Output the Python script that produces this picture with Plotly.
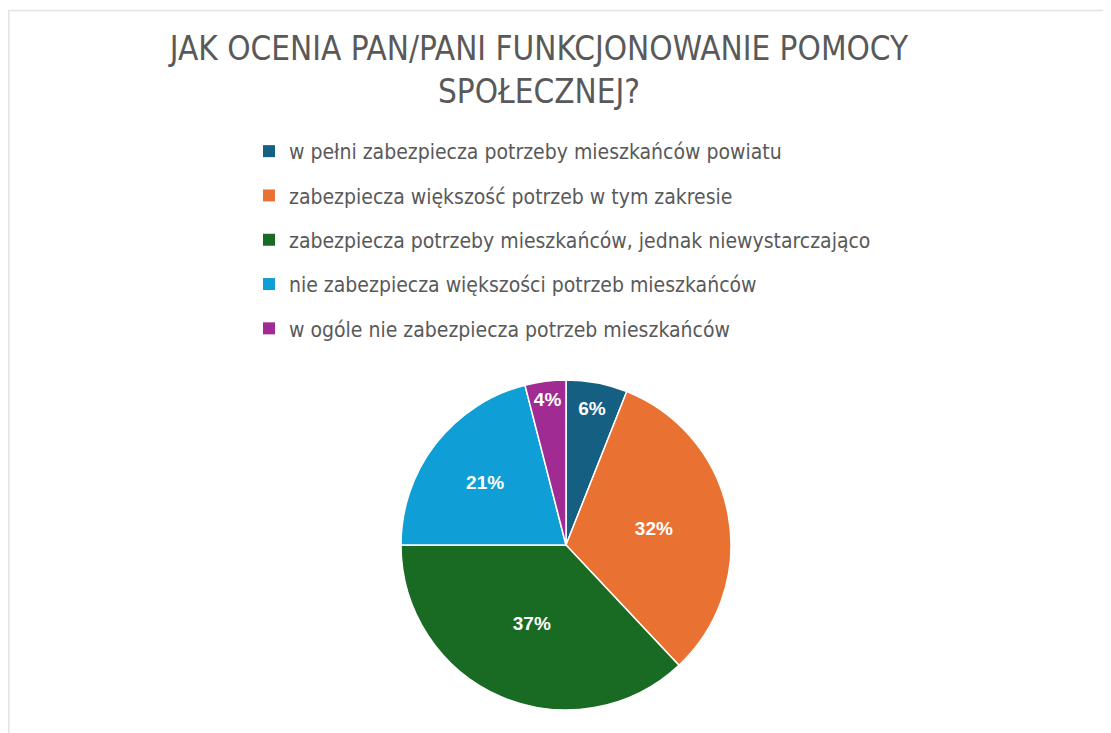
import plotly.graph_objects as go

title_text = "JAK OCENIA PAN/PANI FUNKCJONOWANIE POMOCY<br>SPOŁECZNEJ?"
labels = [
    "w pełni zabezpiecza potrzeby mieszkańców powiatu",
    "zabezpiecza większość potrzeb w tym zakresie",
    "zabezpiecza potrzeby mieszkańców, jednak niewystarczająco",
    "nie zabezpiecza większości potrzeb mieszkańców",
    "w ogóle nie zabezpiecza potrzeb mieszkańców",
]
values = [6, 32, 37, 21, 4]
colors = ["#156082", "#E97132", "#196B24", "#0F9ED5", "#A02B93"]

W, H = 1111, 733
OFF = 8  # page body margin
cx, cy, r = 566 - OFF, 545 - OFF, 165

fig = go.Figure()
fig.add_trace(go.Pie(
    labels=labels, values=values, sort=False, direction="clockwise", rotation=0,
    marker=dict(colors=colors, line=dict(color="white", width=1.5)),
    texttemplate="%{percent:.0%}", textposition="inside",
    insidetextorientation="horizontal",
    textfont=dict(family="Liberation Sans, Arial, sans-serif", size=19, color="white",
                  weight="bold"),
    showlegend=False, hoverinfo="label+percent",
    domain=dict(x=[(cx - r) / W, (cx + r) / W], y=[1 - (cy + r) / H, 1 - (cy - r) / H]),
))

# legend entries (one per slice), grouped so the gap between items matches
for i, (lab, col) in enumerate(zip(labels, colors)):
    fig.add_trace(go.Scatter(
        x=[None], y=[None], mode="markers", name=lab, legendgroup=f"g{i}",
        marker=dict(symbol="square", size=14, color=col),
        showlegend=True, hoverinfo="skip",
    ))

fig.update_layout(
    width=W, height=H,
    margin=dict(l=0, r=0, t=0, b=0, autoexpand=False),
    paper_bgcolor="white", plot_bgcolor="white",
    xaxis=dict(visible=False), yaxis=dict(visible=False),
    title=dict(
        text=title_text, x=531 / W, xanchor="center", y=1 - 52 / H, yanchor="top",
        font=dict(family="Liberation Sans Narrow, DejaVu Sans Condensed, Roboto, sans-serif",
                  size=33, color="#595959"),
    ),
    legend=dict(
        x=241 / W, xanchor="left", y=1 - 123 / H, yanchor="top",
        font=dict(family="Liberation Sans Narrow, DejaVu Sans Condensed, Roboto, sans-serif",
                  size=21, color="#595959"),
        tracegroupgap=14, itemsizing="constant", bgcolor="rgba(0,0,0,0)",
    ),
    shapes=[dict(type="rect", xref="paper", yref="paper",
                 x0=0.8 / W, x1=1.05, y0=-0.05, y1=1 - 2.5 / H,
                 line=dict(color="#E3E3E3", width=1.5), layer="below")],
)

fig.write_html("out.html")
